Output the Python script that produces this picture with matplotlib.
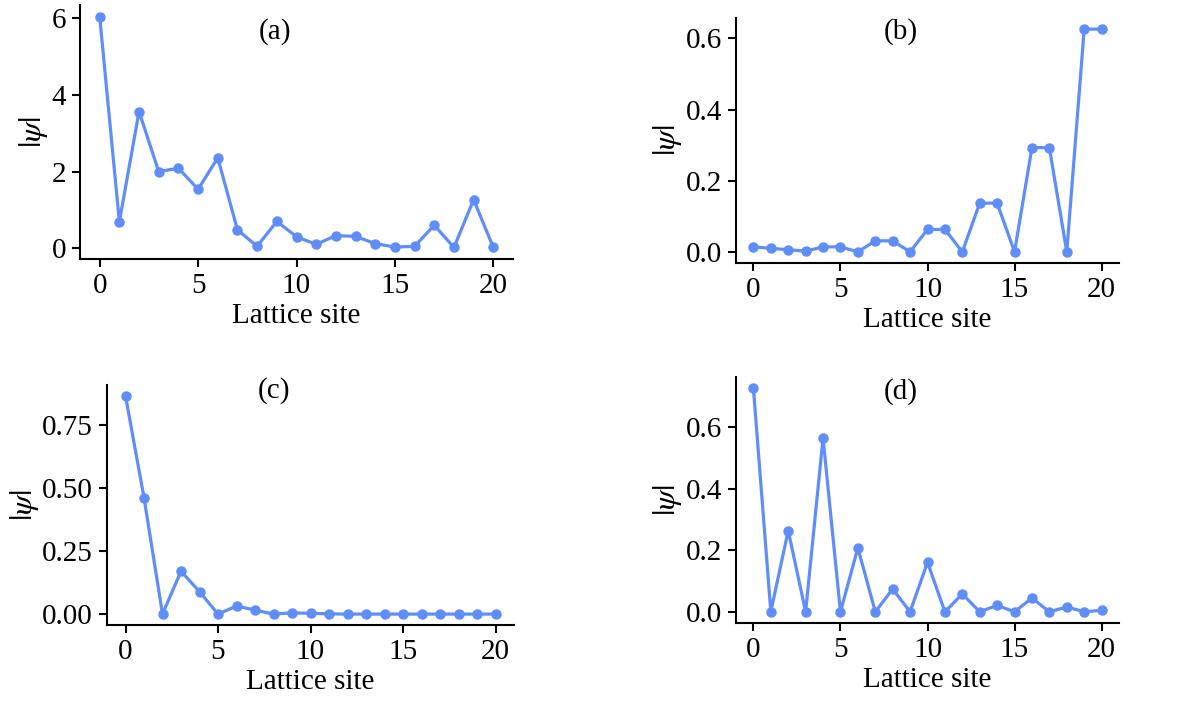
import numpy as np
import matplotlib
matplotlib.use("Agg")
import matplotlib.pyplot as plt

plt.rcParams['font.family'] = ['Liberation Serif', 'DejaVu Serif']
plt.rcParams['mathtext.fontset'] = 'stix'

sites = np.arange(21)

# |psi| per lattice site
psi_a = [6.05, 0.69, 3.57, 2.00, 2.09, 1.54, 2.36, 0.48, 0.05, 0.70, 0.30,
         0.10, 0.33, 0.31, 0.12, 0.03, 0.05, 0.60, 0.02, 1.27, 0.02]
psi_b = [0.014, 0.010, 0.006, 0.002, 0.014, 0.014, 0.0, 0.031, 0.031, 0.0, 0.063,
         0.063, 0.0, 0.137, 0.137, 0.0, 0.293, 0.293, 0.0, 0.626, 0.626]
psi_c = [0.865, 0.462, 0.0, 0.170, 0.089, 0.0, 0.032, 0.016, 0.0, 0.005, 0.003,
         0.001, 0.0, 0.0, 0.0, 0.0, 0.0, 0.0, 0.0, 0.0, 0.0]
psi_d = [0.727, 0.0, 0.264, 0.0, 0.565, 0.0, 0.208, 0.0, 0.074, 0.0, 0.161,
         0.0, 0.058, 0.0, 0.021, 0.0, 0.045, 0.0, 0.016, 0.0, 0.005]

panel_labels = ['(a)', '(b)', '(c)', '(d)']
yticks = [[0, 2, 4, 6], [0.0, 0.2, 0.4, 0.6], [0.0, 0.25, 0.5, 0.75], [0.0, 0.2, 0.4, 0.6]]
yfmt = ['{:.0f}', '{:.1f}', '{:.2f}', '{:.1f}']

W, H = 1187, 704
# axes boxes in pixels: left, top, right, bottom
boxes = [(80, 5, 513, 259), (736, 18, 1119, 263), (107, 385, 514, 625), (736, 377, 1119, 623)]
label_pos = [(0.45, 0.895), (0.43, 0.944), (0.41, 0.975), (0.43, 0.94)]

color = '#5f8dfa'
fs = 21
fig = plt.figure(figsize=(W / 100, H / 100), dpi=100)

for data, lab, yt, fmt, box, lp in zip([psi_a, psi_b, psi_c, psi_d], panel_labels,
                                        yticks, yfmt, boxes, label_pos):
    l, t, r, b = box
    ax = fig.add_axes([l / W, 1 - b / H, (r - l) / W, (b - t) / H])
    ax.plot(sites, data, '-o', color=color, lw=2.3, ms=6.5)
    ax.spines['top'].set_visible(False)
    ax.spines['right'].set_visible(False)
    for s in ['left', 'bottom']:
        ax.spines[s].set_linewidth(1.5)
    ax.set_xticks([0, 5, 10, 15, 20])
    ax.set_yticks(yt)
    ax.set_yticklabels([fmt.format(v) for v in yt])
    ax.tick_params(labelsize=fs, width=1.5, length=6, pad=4)
    ax.set_xlabel('Lattice site', fontsize=fs, labelpad=3)
    ax.set_ylabel(r'$|\psi|$', fontsize=fs + 2, labelpad=1)
    ax.text(lp[0], lp[1], lab, transform=ax.transAxes, ha='center', va='center', fontsize=fs)

fig.savefig('out.png', dpi=100)
